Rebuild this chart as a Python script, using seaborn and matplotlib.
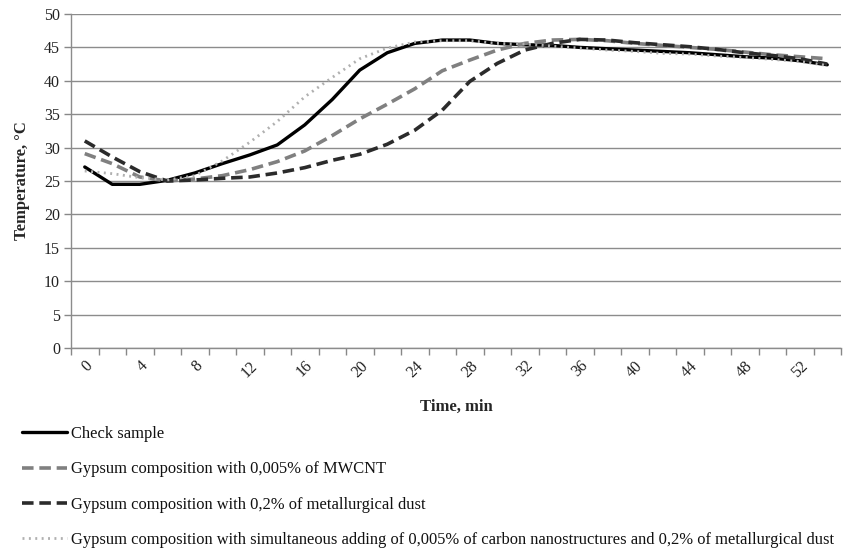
import matplotlib
matplotlib.use("Agg")
import matplotlib.pyplot as plt
import seaborn as sns
import pandas as pd
import numpy as np

time_min = list(range(0, 56, 2))

check_sample = [27.1, 24.5, 24.5, 25.1, 26.2, 27.6, 28.9, 30.4, 33.4, 37.2,
                41.6, 44.2, 45.6, 46.1, 46.1, 45.6, 45.4, 45.3, 45.0, 44.8,
                44.6, 44.4, 44.2, 43.9, 43.6, 43.4, 43.0, 42.4]
mwcnt = [29.1, 27.6, 25.6, 25.0, 25.3, 25.8, 26.7, 27.9, 29.5, 31.8,
         34.3, 36.5, 38.8, 41.5, 43.1, 44.6, 45.6, 46.1, 46.2, 46.0,
         45.6, 45.3, 45.0, 44.7, 44.3, 43.9, 43.6, 43.3]
met_dust = [31.0, 28.6, 26.4, 25.0, 25.15, 25.4, 25.6, 26.2, 27.0, 28.1,
            29.0, 30.5, 32.6, 35.6, 39.9, 42.6, 44.6, 45.6, 46.2, 46.1,
            45.7, 45.4, 45.1, 44.7, 44.2, 43.8, 43.3, 42.5]
simultaneous = [26.5, 26.1, 25.5, 25.15, 25.8, 28.0, 30.8, 33.9, 37.6, 40.5,
                43.3, 44.9, 45.8, 46.0, 46.0, 45.6, 45.5, 45.2, 44.9, 44.6,
                44.4, 44.1, 44.0, 43.7, 43.5, 43.2, 42.9, 42.3]

series_names = [
    "Check sample",
    "Gypsum composition with 0,005% of MWCNT",
    "Gypsum composition with 0,2% of metallurgical dust",
    "Gypsum composition with simultaneous adding of 0,005% of carbon nanostructures and 0,2% of metallurgical dust",
]
series_values = [check_sample, mwcnt, met_dust, simultaneous]
x_tick_labels = list(range(0, 53, 4))
y_ticks = list(range(0, 51, 5))

sns.set_theme(style="white")
plt.rcParams['font.family'] = ['Liberation Serif', 'DejaVu Serif']

fig = plt.figure(figsize=(8.5, 5.48), dpi=100)
ax = fig.add_axes([71/850, 1-348/548, 770/850, 334/548])

styles = [
    dict(color="#000000", linewidth=2.4, linestyle="-"),
    dict(color="#808080", linewidth=2.6, linestyle=(0, (3.2, 1.6))),
    dict(color="#2b2b2b", linewidth=2.6, linestyle=(0, (3.2, 1.6))),
    dict(color="#b0b0b0", linewidth=2.0, linestyle=(0, (0.7, 1.6))),
]

frames = []
for name, vals in zip(series_names, series_values):
    frames.append(pd.DataFrame({"time": time_min, "temp": vals, "series": name}))
df = pd.concat(frames, ignore_index=True)

for name, st in zip(series_names, styles):
    sub = df[df["series"] == name]
    sns.lineplot(data=sub, x="time", y="temp", ax=ax, label=name, **st)

ax.set_xlim(-1, 55)
ax.set_ylim(0, 50)
ax.set_yticks(y_ticks)
ax.set_yticklabels([str(v) for v in y_ticks], fontsize=11.5, color="#222222")
ax.set_xticks(x_tick_labels)
ax.set_xticklabels([str(v) for v in x_tick_labels], rotation=45, ha="right",
                   va="top", rotation_mode="anchor", fontsize=11.5, color="#222222")
ax.set_xticks(np.arange(-1, 56, 2), minor=True)
ax.tick_params(axis="x", which="major", length=0, pad=7)
ax.tick_params(axis="x", which="minor", length=5, width=1, color="#888888", direction="out", bottom=True)
ax.tick_params(axis="y", which="major", length=5, width=1, color="#888888", direction="out", left=True, pad=3)

ax.grid(axis="y", color="#8c8c8c", linewidth=1)
ax.grid(axis="x", visible=False)
for side in ["top", "right"]:
    ax.spines[side].set_visible(False)
for side in ["left", "bottom"]:
    ax.spines[side].set_visible(True)
    ax.spines[side].set_color("#8c8c8c")
    ax.spines[side].set_linewidth(1)

ax.set_xlabel("Time, min", fontsize=12, fontweight="bold", labelpad=13)
ax.set_ylabel("Temperature, °C", fontsize=12, fontweight="bold", labelpad=10)

leg = ax.legend(loc="upper left", bbox_to_anchor=(22/850, 1-426/548),
                bbox_transform=fig.transFigure, frameon=False,
                fontsize=11.9, handlelength=2.75, handletextpad=0.2,
                labelspacing=1.17, borderaxespad=0, borderpad=0)
for t in leg.get_texts():
    t.set_color("#111111")

fig.savefig("out.png", dpi=100, facecolor="white")
